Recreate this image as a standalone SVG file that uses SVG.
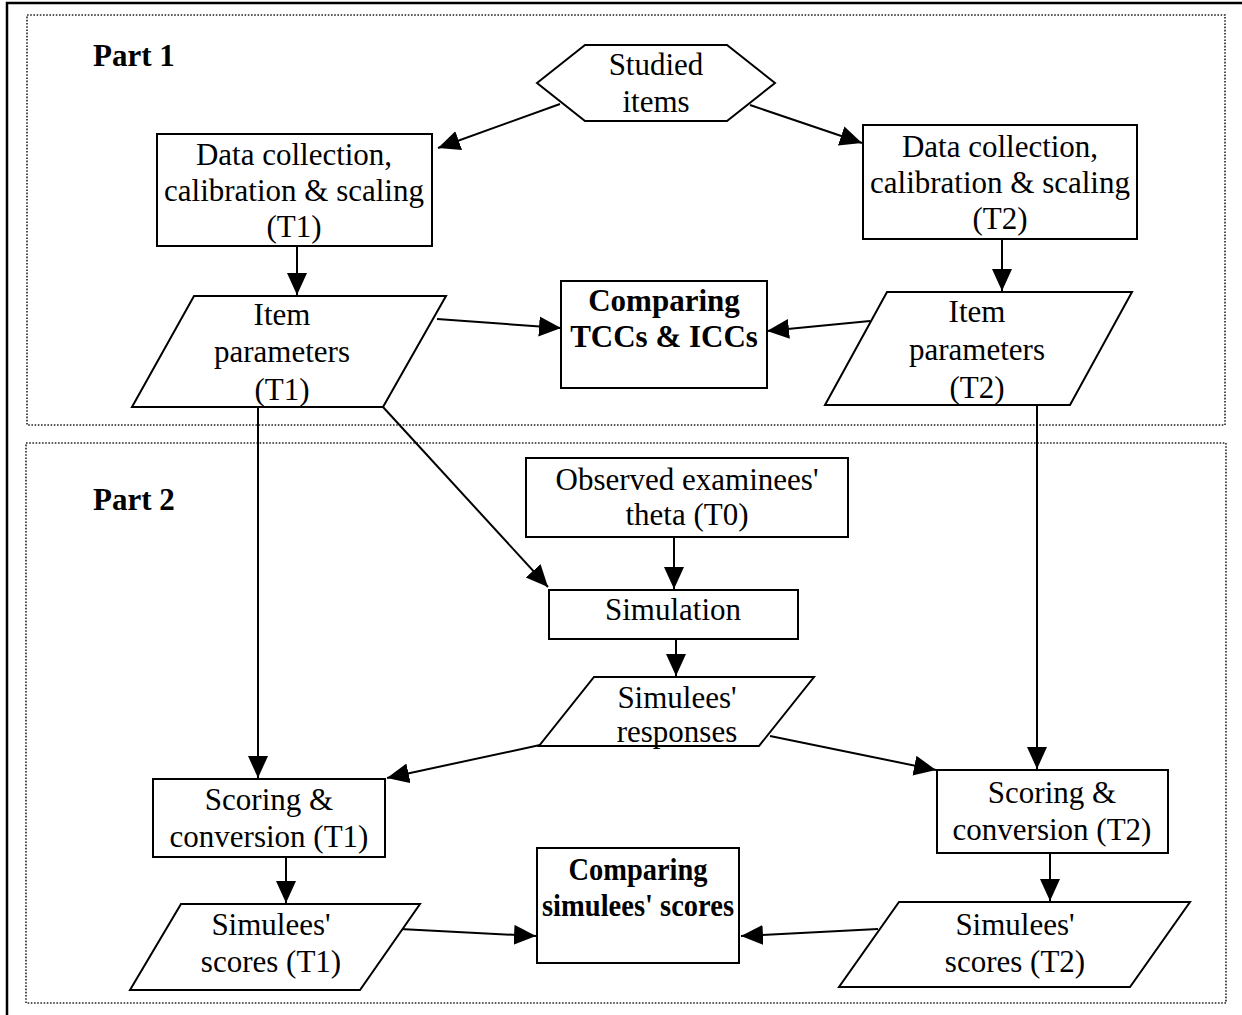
<svg xmlns="http://www.w3.org/2000/svg" width="1242" height="1015" viewBox="0 0 1242 1015">
<style>
.shape{fill:#fff;stroke:#000;stroke-width:2}
.t{font-family:"Liberation Serif","Times New Roman",serif;font-size:31px;text-anchor:middle;fill:#000}
.b{font-weight:bold}
.part{font-family:"Liberation Serif","Times New Roman",serif;font-size:31px;font-weight:bold;fill:#000}
.frame{fill:none;stroke:#222;stroke-width:1.6;stroke-dasharray:1.6 1.6}
.conn line{stroke:#000;stroke-width:2;marker-end:url(#ah)}
</style>
<defs>
<marker id="ah" markerUnits="userSpaceOnUse" markerWidth="24" markerHeight="22" refX="22" refY="10" orient="auto">
<path d="M0,0 L22,10 L0,20 z" fill="#000"/>
</marker>
</defs>
<rect width="1242" height="1015" fill="#fff"/>
<path d="M7,1015 L7,3 L1242,3" fill="none" stroke="#000" stroke-width="2.5"/>
<rect class="frame" x="27" y="15" width="1198" height="410"/>
<rect class="frame" x="26" y="443" width="1200" height="560"/>
<text class="part" x="93" y="66">Part 1</text>
<text class="part" x="93" y="510">Part 2</text>

<g class="conn" id="connectors">
<line x1="560" y1="104" x2="438" y2="148"/>
<line x1="750" y1="105" x2="862" y2="143"/>
<line x1="297" y1="246" x2="297" y2="295"/>
<line x1="1002" y1="239" x2="1002" y2="291"/>
<line x1="437" y1="319" x2="561" y2="328"/>
<line x1="870" y1="321" x2="767" y2="331"/>
<line x1="258" y1="407" x2="258" y2="778"/>
<line x1="383" y1="407" x2="548" y2="587"/>
<line x1="1037" y1="405" x2="1037" y2="769"/>
<line x1="674" y1="537" x2="674" y2="589"/>
<line x1="676" y1="639" x2="676" y2="676"/>
<line x1="540" y1="745" x2="387" y2="778"/>
<line x1="770" y1="736" x2="936" y2="770"/>
<line x1="286" y1="857" x2="286" y2="903"/>
<line x1="1050" y1="853" x2="1050" y2="901"/>
<line x1="400" y1="929" x2="536" y2="936"/>
<line x1="878" y1="929" x2="741" y2="936"/>
</g>

<g id="studied-items">
<polygon class="shape" points="537,83 585,45 727,45 775,83 727,121 585,121"/>
<text class="t" x="656" y="75">Studied</text>
<text class="t" x="656" y="112">items</text>
</g>
<g id="dc-t1">
<rect class="shape" x="157" y="134" width="275" height="112"/>
<text class="t" x="294" y="165">Data collection,</text>
<text class="t" x="294" y="201">calibration &amp; scaling</text>
<text class="t" x="294" y="237">(T1)</text>
</g>
<g id="dc-t2">
<rect class="shape" x="863" y="125" width="274" height="114"/>
<text class="t" x="1000" y="157">Data collection,</text>
<text class="t" x="1000" y="193">calibration &amp; scaling</text>
<text class="t" x="1000" y="229">(T2)</text>
</g>
<g id="item-t1">
<polygon class="shape" points="194,296 446,296 383,407 132,407"/>
<text class="t" x="282" y="325">Item</text>
<text class="t" x="282" y="362">parameters</text>
<text class="t" x="282" y="400">(T1)</text>
</g>
<g id="item-t2">
<polygon class="shape" points="887,292 1132,292 1070,405 825,405"/>
<text class="t" x="977" y="322">Item</text>
<text class="t" x="977" y="360">parameters</text>
<text class="t" x="977" y="398">(T2)</text>
</g>
<g id="compare-tcc">
<rect class="shape" x="561" y="281" width="206" height="107"/>
<text class="t b" x="664" y="311">Comparing</text>
<text class="t b" x="664" y="347">TCCs &amp; ICCs</text>
</g>
<g id="observed">
<rect class="shape" x="526" y="458" width="322" height="79"/>
<text class="t" x="687" y="490">Observed examinees'</text>
<text class="t" x="687" y="525">theta (T0)</text>
</g>
<g id="simulation">
<rect class="shape" x="549" y="590" width="249" height="49"/>
<text class="t" x="673" y="620">Simulation</text>
</g>
<g id="responses">
<polygon class="shape" points="594,677 814,677 759,746 539,746"/>
<text class="t" x="677" y="708">Simulees'</text>
<text class="t" x="677" y="742">responses</text>
</g>
<g id="scoring-t1">
<rect class="shape" x="153" y="779" width="232" height="78"/>
<text class="t" x="269" y="810">Scoring &amp;</text>
<text class="t" x="269" y="847">conversion (T1)</text>
</g>
<g id="scoring-t2">
<rect class="shape" x="937" y="770" width="231" height="83"/>
<text class="t" x="1052" y="803">Scoring &amp;</text>
<text class="t" x="1052" y="840">conversion (T2)</text>
</g>
<g id="scores-t1">
<polygon class="shape" points="181,904 420,904 360,990 130,990"/>
<text class="t" x="271" y="935">Simulees'</text>
<text class="t" x="271" y="972">scores (T1)</text>
</g>
<g id="compare-scores">
<rect class="shape" x="537" y="848" width="202" height="115"/>
<text class="t b" x="638" y="880" textLength="139" lengthAdjust="spacingAndGlyphs">Comparing</text>
<text class="t b" x="638" y="916" textLength="192" lengthAdjust="spacingAndGlyphs">simulees' scores</text>
</g>
<g id="scores-t2">
<polygon class="shape" points="899,902 1190,902 1130,987 839,987"/>
<text class="t" x="1015" y="935">Simulees'</text>
<text class="t" x="1015" y="972">scores (T2)</text>
</g>
</svg>
